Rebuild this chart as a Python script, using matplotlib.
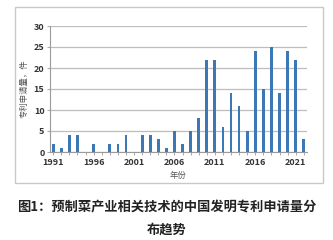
import numpy as np
import matplotlib.pyplot as plt
from matplotlib.patches import Rectangle

plt.rcParams['font.family'] = ['Noto Sans CJK SC', 'DejaVu Sans']

years = list(range(1991, 2023))
counts = [2, 1, 4, 4, 0, 2, 0, 2, 2, 4,
          0, 4, 4, 3, 1, 5, 2, 5, 8, 22,
          22, 6, 14, 11, 5, 24, 15, 25, 14, 24,
          22, 3]
tick_years = [1991, 1996, 2001, 2006, 2011, 2016, 2021]
caption_1 = "图1：预制菜产业相关技术的中国发明专利申请量分"
caption_2 = "布趋势"

fig = plt.figure(figsize=(3.33, 2.4), dpi=100)
fig.patch.set_facecolor("white")

# chart border like the excel frame
fig.patches.append(Rectangle((15 / 333, 1 - 183 / 240), 308 / 333, 176 / 240,
                             transform=fig.transFigure, fill=False,
                             edgecolor="#c8c8c8", linewidth=1))

ax = fig.add_axes([50 / 333, 88 / 240, 257 / 333, 126 / 240])
ax.bar(years, counts, width=0.34, color="#3b78b5")
ax.set_xlim(1990.6, 2022.4)
ax.set_ylim(0, 30)
ax.set_yticks(range(0, 31, 5))
ax.set_xticks(years, minor=True)
ax.set_xticks(tick_years)
ax.grid(axis="y", color="#bdbdbd", linewidth=0.9)
ax.set_axisbelow(True)
for s in ["top", "right"]:
    ax.spines[s].set_visible(False)
ax.spines["left"].set_color("#9a9a9a")
ax.spines["bottom"].set_color("#9a9a9a")
ax.tick_params(axis="both", labelsize=6.5, colors="#333333", length=2, width=0.6, pad=2)
ax.tick_params(axis="x", which="minor", length=2, width=0.6, color="#9a9a9a")
ax.tick_params(axis="x", which="major", length=2, color="#9a9a9a")
ax.tick_params(axis="y", length=2, color="#9a9a9a")
for lab in ax.get_xticklabels() + ax.get_yticklabels():
    lab.set_fontweight("bold")

ax.set_ylabel("专利申请量，件", fontsize=6, color="#555555", labelpad=4)
ax.set_xlabel("年份", fontsize=6, color="#555555", labelpad=3)

fig.text(0.5, 1 - 207 / 240, caption_1, ha="center", va="center",
         fontsize=9.5, fontweight="bold", color="#222222")
fig.text(0.5, 1 - 230 / 240, caption_2, ha="center", va="center",
         fontsize=9.5, fontweight="bold", color="#222222")

fig.savefig("out.png", dpi=100)
